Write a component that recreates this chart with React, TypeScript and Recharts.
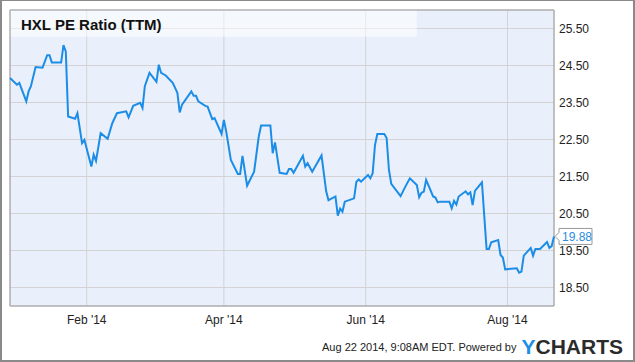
import { LineChart, Line, XAxis, YAxis, CartesianGrid, ReferenceArea } from 'recharts';

const dates = [
  '2013-12-30', '2014-01-02', '2014-01-03', '2014-01-06', '2014-01-07', '2014-01-08', '2014-01-10', '2014-01-13',
  '2014-01-15', '2014-01-16', '2014-01-17', '2014-01-21', '2014-01-22', '2014-01-23', '2014-01-24', '2014-01-27',
  '2014-01-28', '2014-01-30', '2014-01-31', '2014-02-03', '2014-02-04', '2014-02-05', '2014-02-07', '2014-02-10',
  '2014-02-12', '2014-02-14', '2014-02-18', '2014-02-19', '2014-02-21', '2014-02-24', '2014-02-25', '2014-02-26',
  '2014-02-28', '2014-03-03', '2014-03-04', '2014-03-05', '2014-03-07', '2014-03-10', '2014-03-12', '2014-03-13',
  '2014-03-14', '2014-03-18', '2014-03-19', '2014-03-20', '2014-03-21', '2014-03-24', '2014-03-25', '2014-03-27',
  '2014-03-28', '2014-03-31', '2014-04-01', '2014-04-02', '2014-04-04', '2014-04-07', '2014-04-08', '2014-04-09',
  '2014-04-11', '2014-04-14', '2014-04-16', '2014-04-17', '2014-04-21', '2014-04-22', '2014-04-23', '2014-04-25',
  '2014-04-28', '2014-04-29', '2014-04-30', '2014-05-01', '2014-05-05', '2014-05-06', '2014-05-07', '2014-05-09',
  '2014-05-13', '2014-05-15', '2014-05-16', '2014-05-19', '2014-05-20', '2014-05-21', '2014-05-22', '2014-05-23',
  '2014-05-27', '2014-05-28', '2014-05-29', '2014-05-30', '2014-06-02', '2014-06-03', '2014-06-04', '2014-06-05',
  '2014-06-06', '2014-06-09', '2014-06-10', '2014-06-11', '2014-06-12', '2014-06-16', '2014-06-18', '2014-06-20',
  '2014-06-23', '2014-06-24', '2014-06-25', '2014-06-26', '2014-06-27', '2014-06-30', '2014-07-01', '2014-07-02',
  '2014-07-03', '2014-07-07', '2014-07-08', '2014-07-09', '2014-07-10', '2014-07-11', '2014-07-14', '2014-07-15',
  '2014-07-16', '2014-07-17', '2014-07-18', '2014-07-21', '2014-07-23', '2014-07-24', '2014-07-25', '2014-07-28',
  '2014-07-29', '2014-07-30', '2014-07-31', '2014-08-05', '2014-08-06', '2014-08-07', '2014-08-08', '2014-08-11',
  '2014-08-12', '2014-08-13', '2014-08-15', '2014-08-18', '2014-08-19', '2014-08-20', '2014-08-21',
];

const peRatio = [
  24.16, 23.98, 24.03, 23.53, 23.8, 23.94, 24.46, 24.44,
  24.78, 24.78, 24.58, 24.58, 25.05, 24.88, 23.12, 23.06,
  23.21, 22.4, 22.49, 21.77, 22.09, 21.92, 22.67, 22.52,
  22.94, 23.21, 23.26, 23.1, 23.41, 23.49, 23.35, 23.94,
  24.3, 24.06, 24.52, 24.3, 24.23, 24.03, 23.76, 23.23,
  23.44, 23.8, 23.68, 23.68, 23.53, 23.41, 23.39, 23.05,
  23.08, 22.65, 23.03, 22.72, 21.95, 21.57, 21.57, 22.06,
  21.25, 21.63, 22.58, 22.88, 22.88, 22.13, 22.42, 21.6,
  21.57, 21.7, 21.7, 21.6, 22.06, 21.77, 21.86, 21.63,
  22.07, 21.1, 20.86, 20.96, 20.44, 20.63, 20.55, 20.82,
  20.91, 21.36, 21.42, 21.36, 21.54, 21.45, 21.59, 22.35,
  22.65, 22.65, 22.54, 21.68, 21.3, 20.97, 21.22, 21.45,
  21.27, 20.94, 21.06, 21.09, 21.41, 20.96, 20.93, 20.8,
  20.82, 20.82, 20.64, 20.84, 20.74, 20.96, 21.1, 21.02,
  21.07, 20.73, 21.11, 21.34, 19.54, 19.54, 19.72, 19.78,
  19.38, 19.31, 18.99, 19.02, 18.9, 18.93, 19.36, 19.57,
  19.36, 19.54, 19.54, 19.73, 19.57, 19.62, 19.88,
];

const xTickDates = ['2014-02-01', '2014-04-01', '2014-06-01', '2014-08-01'];
const xTickLabels = ["Feb '14", "Apr '14", "Jun '14", "Aug '14"];
const yTicks = [18.5, 19.5, 20.5, 21.5, 22.5, 23.5, 24.5, 25.5];

const toTime = (d: string) => Date.parse(d + 'T00:00:00Z');

const data = dates.map((d, i) => ({ t: toTime(d), pe: peRatio[i] }));
const xTicks = xTickDates.map(toTime);
const xDomain = [toTime(dates[0]), toTime(dates[dates.length - 1])];
const titleEnd = toTime('2014-06-23');

const font = 'Arial, "Liberation Sans", sans-serif';

const LastValue = (props: any) => {
  const { x, y, index, value } = props;
  if (index !== data.length - 1) return null;
  return (
    <g>
      <path
        d={`M${x + 1},${y} L${x + 5},${y - 4} L${x + 5},${y - 8} L${x + 38},${y - 8} L${x + 38},${y + 8} L${x + 5},${y + 8} L${x + 5},${y + 4} Z`}
        fill="#fff"
        stroke="#999"
      />
      <text x={x + 8} y={y + 4.5} fontSize={12} fontFamily={font} fill="#2a8ce0">
        {Number(value).toFixed(2)}
      </text>
    </g>
  );
};

export default function App() {
  return (
    <div style={{ position: 'absolute', left: 0, top: 0, width: 635, height: 362, background: '#fff', fontFamily: font }}>
      <LineChart width={635} height={362} data={data} margin={{ top: 10, right: 0, bottom: 0, left: 10 }}>
        <CartesianGrid stroke="#d3d3d3" fill="#eaf0fb" fillOpacity={1} />
        <XAxis
          dataKey="t"
          type="number"
          domain={xDomain}
          ticks={xTicks}
          tickFormatter={(v: number) => xTickLabels[xTicks.indexOf(v)]}
          height={56}
          axisLine={false}
          tickLine={false}
          tickSize={0}
          tickMargin={9}
          tick={{ fontSize: 12, fill: '#222', fontFamily: font }}
        />
        <YAxis
          orientation="right"
          domain={[18, 26]}
          ticks={yTicks}
          tickFormatter={(v: number) => v.toFixed(2)}
          width={81}
          axisLine={false}
          tickLine={false}
          tickSize={0}
          tickMargin={5}
          tick={{ fontSize: 12, fill: '#222', fontFamily: font, textAnchor: 'start' }}
        />
        <ReferenceArea x1={xDomain[0]} x2={titleEnd} y1={25.28} y2={26} fill="#ffffff" fillOpacity={0.5} stroke="none" />
        <ReferenceArea x1={xDomain[0]} x2={xDomain[1]} y1={18} y2={26} fill="none" stroke="#9a9a9a" strokeWidth={1} />
        <Line
          type="linear"
          dataKey="pe"
          stroke="#1c8de6"
          strokeWidth={2}
          dot={false}
          isAnimationActive={false}
          label={<LastValue />}
        />
      </LineChart>
      <div style={{ position: 'absolute', left: 21, top: 16, fontSize: 15, fontWeight: 'bold', color: '#111' }}>
        HXL PE Ratio (TTM)
      </div>
      <div style={{ position: 'absolute', right: 12, top: 337, display: 'flex', alignItems: 'center', whiteSpace: 'nowrap' }}>
        <span style={{ fontSize: 11, color: '#222', marginRight: 5 }}>Aug 22 2014, 9:08AM EDT. Powered by</span>
        <span style={{ fontSize: 21, fontWeight: 'bold', lineHeight: '20px' }}>
          <span style={{ color: '#1e8fe6' }}>Y</span>
          <span style={{ color: '#2b2b2b' }}>CHARTS</span>
        </span>
      </div>
      <div
        style={{
          position: 'absolute',
          left: 0,
          top: 0,
          width: 635,
          height: 362,
          boxSizing: 'border-box',
          borderStyle: 'solid',
          borderColor: '#8a8a8a',
          borderWidth: '1px 2px 2px 2px',
          pointerEvents: 'none',
        }}
      />
    </div>
  );
}
